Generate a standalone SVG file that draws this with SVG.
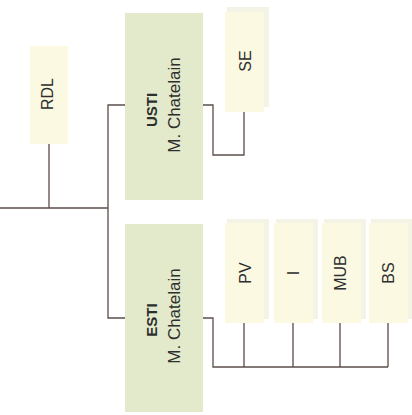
<svg xmlns="http://www.w3.org/2000/svg" width="412" height="415" viewBox="0 0 412 415">
<style>
.big{fill:#e2eacb}
.small{fill:#fbf9e1}
.edge{fill:#f3f4e6}
text{font-family:"Liberation Sans",Arial,sans-serif;fill:#2e2e2e;text-anchor:middle}
.b{font-weight:bold;font-size:15px}
.n{font-size:17px}
.s{font-size:16px}
.c{fill:none;stroke:#5b4d4a;stroke-width:1.3}
</style>
<rect width="412" height="415" fill="#ffffff"/>
<g id="connectors" class="c">
<path d="M0 208H108M49 144V208"/>
<path d="M125 105H108V318H125"/>
<path d="M203 105H213V155H244V112"/>
<path d="M203 318H213V367H388M244 323V367M293 323V367M340 323V367M388 323V367"/>
</g>
<g id="RDL">
<rect class="small" x="30" y="46" width="38" height="98"/>
<text class="s" transform="translate(53 94) rotate(-90)">RDL</text>
</g>
<g id="USTI">
<rect class="big" x="125" y="13" width="78" height="187"/>
<text class="b" transform="translate(157 110) rotate(-90)">USTI</text>
<text class="n" transform="translate(180 105) rotate(-90)">M. Chatelain</text>
</g>
<g id="SE">
<rect class="edge" x="227" y="7" width="42" height="100"/>
<rect class="small" x="225" y="12" width="39" height="100"/>
<text class="s" transform="translate(251 61) rotate(-90)">SE</text>
</g>
<g id="ESTI">
<rect class="big" x="125" y="224" width="78" height="188"/>
<text class="b" transform="translate(157 320) rotate(-90)">ESTI</text>
<text class="n" transform="translate(180 316) rotate(-90)">M. Chatelain</text>
</g>
<g id="PV">
<rect class="edge" x="227" y="219" width="42" height="100"/>
<rect class="small" x="225" y="223" width="39" height="100"/>
<text class="s" transform="translate(251 273) rotate(-90)">PV</text>
</g>
<g id="I">
<rect class="edge" x="276" y="219" width="42" height="100"/>
<rect class="small" x="274" y="223" width="39" height="100"/>
<text class="s" transform="translate(299 273) rotate(-90)">I</text>
</g>
<g id="MUB">
<rect class="edge" x="324" y="219" width="42" height="100"/>
<rect class="small" x="322" y="223" width="39" height="100"/>
<text class="s" transform="translate(346 273) rotate(-90)">MUB</text>
</g>
<g id="BS">
<rect class="edge" x="371" y="219" width="41" height="100"/>
<rect class="small" x="369" y="223" width="39" height="100"/>
<text class="s" transform="translate(394 273) rotate(-90)">BS</text>
</g>
</svg>
